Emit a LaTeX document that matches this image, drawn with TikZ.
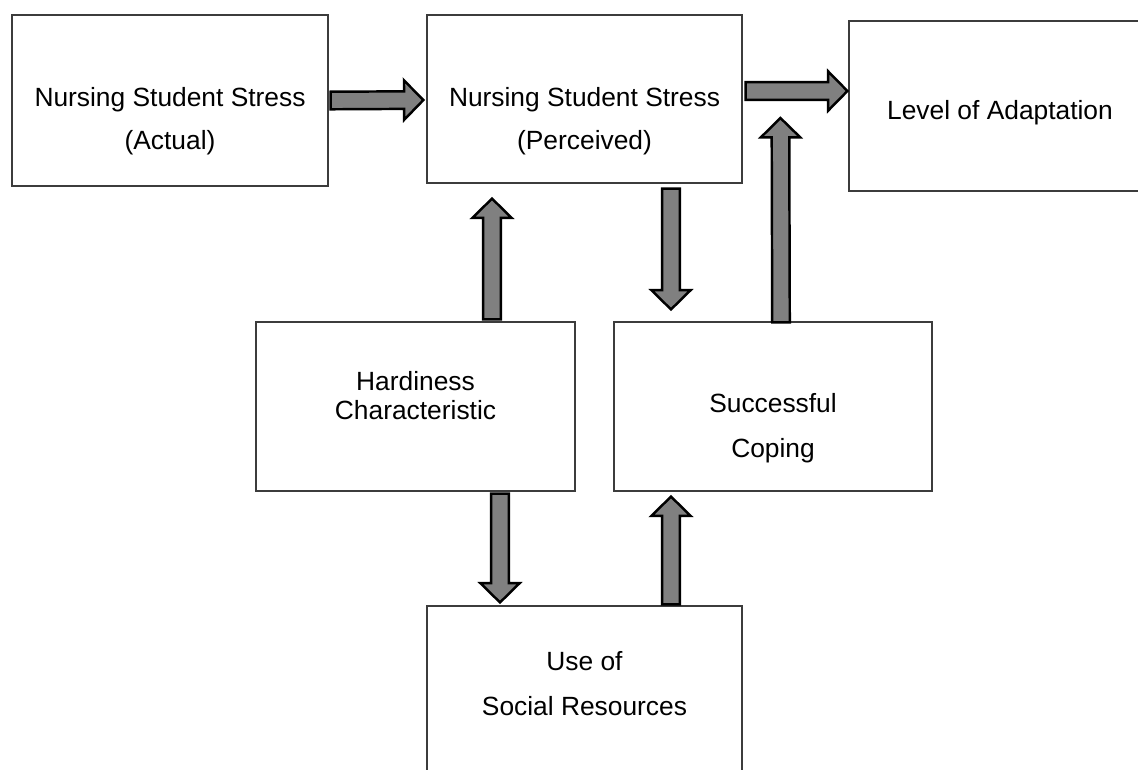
\documentclass[tikz,border=0pt]{standalone}
\usepackage{fontspec}
\setmainfont{Liberation Sans}
\usepackage{tikz}
\usetikzlibrary{calc}
\definecolor{boxline}{RGB}{60, 60, 60}
\definecolor{arrowfill}{RGB}{128, 128, 128}

% block arrow from #1 to #2
\newcommand{\fatarrow}[2]{%
  \coordinate (fa-h) at ($(#2)!11pt!(#1)$);
  \draw[fatarrow] ($(#1)!5pt!90:(#2)$) -- ($(fa-h)!5pt!90:(#2)$)
    -- ($(fa-h)!11.2pt!90:(#2)$) -- (#2) -- ($(fa-h)!11.2pt!-90:(#2)$)
    -- ($(fa-h)!5pt!-90:(#2)$) -- ($(#1)!5pt!-90:(#2)$) -- cycle;
}

\begin{document}
\begin{tikzpicture}[x=0.02cm, y=-0.02cm,
    box/.style={draw=boxline, line width=0.7pt, fill=white, inner sep=0pt},
    txt/.style={align=center, font=\fontsize{15}{24.5}\selectfont},
    fatarrow/.style={draw=black, fill=arrowfill, line width=1.4pt, line join=miter}]
  \useasboundingbox (0, 0) rectangle (1138, 769);
  \clip (0, 0) rectangle (1138, 769);
  \fill[white] (0, 0) rectangle (1138, 769);

  % boxes
  \node[box, minimum width=6.32cm, minimum height=3.42cm] (actual) at (170, 100.5) {};
  \node[box, minimum width=6.30cm, minimum height=3.36cm] (perc) at (584.5, 99) {};
  \node[box, minimum width=6.40cm, minimum height=3.40cm] (level) at (1009, 106) {};
  \node[box, minimum width=6.38cm, minimum height=3.38cm] (hard) at (415.5, 406.5) {};
  \node[box, minimum width=6.36cm, minimum height=3.38cm] (coping) at (773, 406.5) {};
  \node[box, minimum width=6.30cm, minimum height=3.44cm] (social) at (584.5, 692) {};

  % texts
  \node[txt] (actualtxt) at (170, 121.5) {Nursing Student Stress\\(Actual)};
  \node[txt] (perctxt) at (584.5, 121.5) {Nursing Student Stress\\(Perceived)};
  \node[txt] (leveltxt) at (1000, 113) {Level of Adaptation};
  \node[txt, font=\fontsize{15}{17}\selectfont] (hardtxt) at (415.5, 395.5) {Hardiness\\Characteristic};
  \node[txt, font=\fontsize{15}{25.6}\selectfont] (copingtxt) at (773, 428.5) {Successful\\Coping};
  \node[txt, font=\fontsize{15}{25.6}\selectfont] (socialtxt) at (584.5, 683.5) {Use of\\Social Resources};

  % arrow ends
  \coordinate (a0) at ($(actual.east)+(2, 0)$);
  \coordinate (a1) at ($(perc.west)+(-3, 1)$);
  \coordinate (b0) at ($(perc.east)+(3, -8)$);
  \coordinate (b1) at ($(level.west)+(-1, -15)$);
  \coordinate (c0) at ($(hard.north)+(76.5, -2)$);
  \coordinate (c1) at ($(perc.south)+(-92.5, 15)$);
  \coordinate (d0) at ($(perc.south)+(86.5, 5)$);
  \coordinate (d1) at ($(coping.north)+(-102, -12)$);
  \coordinate (e0) at ($(coping.north)+(8, 1)$);
  \coordinate (e1) at ($(level.west)+(-68, 12)$);
  \coordinate (f0) at ($(hard.south)+(84.5, 2)$);
  \coordinate (f1) at ($(social.north)+(-84.5, -3)$);
  \coordinate (g0) at ($(social.north)+(86.5, -1)$);
  \coordinate (g1) at ($(coping.south)+(-102, 5)$);

  \fatarrow{a0}{a1}
  \fatarrow{b0}{b1}
  \fatarrow{c0}{c1}
  \fatarrow{d0}{d1}
  \fatarrow{e0}{e1}
  \fatarrow{f0}{f1}
  \fatarrow{g0}{g1}

\end{tikzpicture}
\end{document}
